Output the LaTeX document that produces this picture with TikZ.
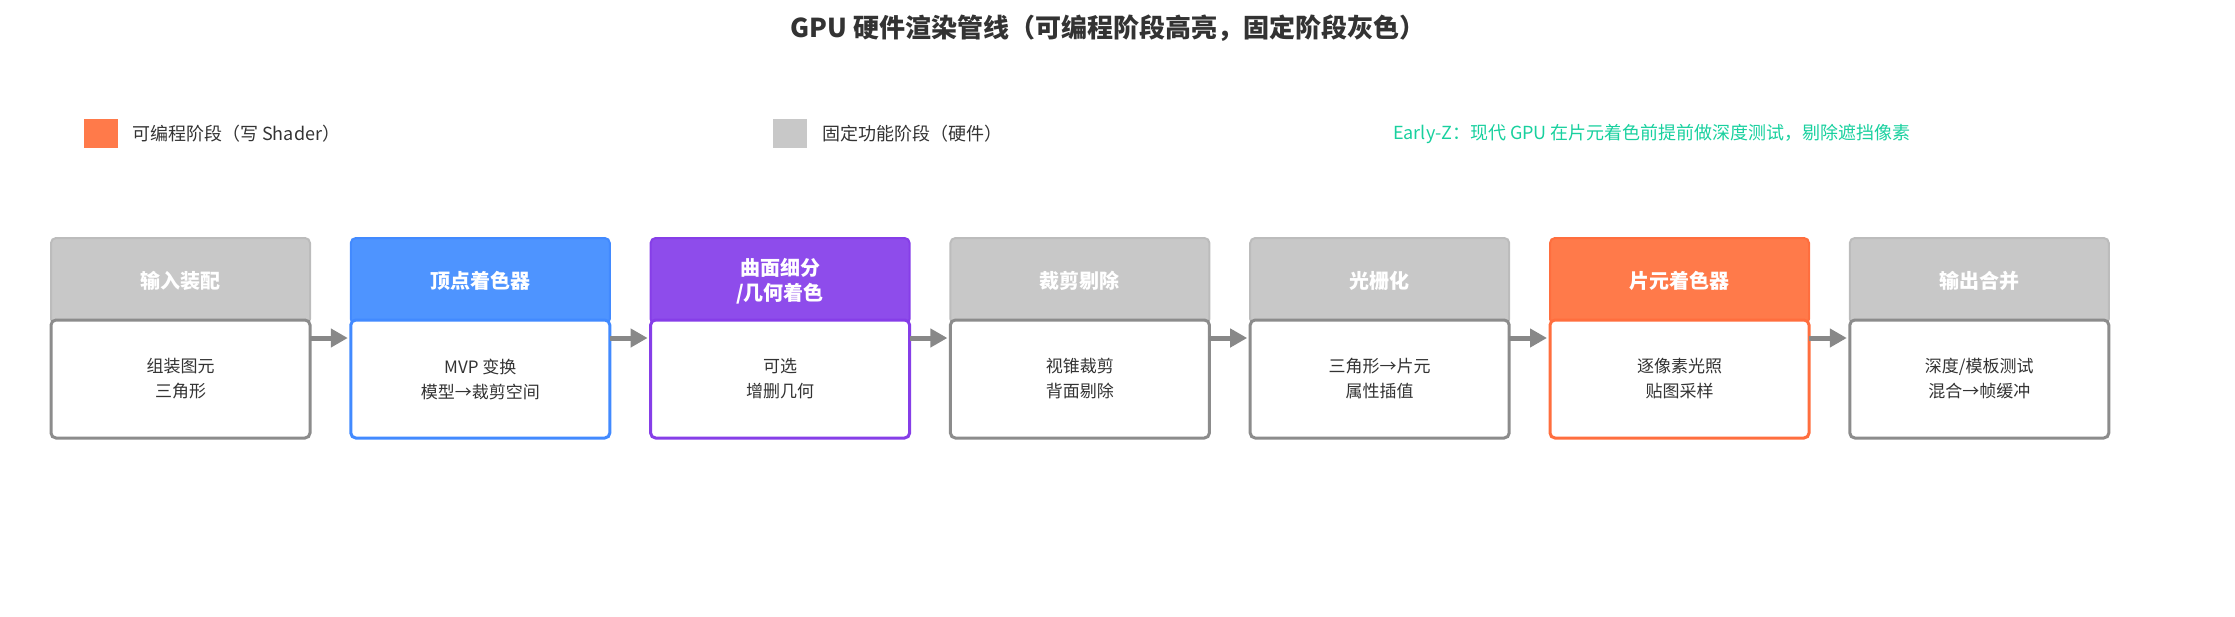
\documentclass[tikz,border=0pt]{standalone}
\usepackage{fontspec}
\setmainfont{Noto Sans CJK SC}
\usetikzlibrary{arrows.meta}
\definecolor{txt}{RGB}{51,51,51}
\definecolor{gfill}{RGB}{200,200,200}
\definecolor{gline}{RGB}{188,188,188}
\definecolor{gbody}{RGB}{140,140,140}
\definecolor{bfill}{RGB}{78,148,255}
\definecolor{bline}{RGB}{66,138,255}
\definecolor{pfill}{RGB}{142,76,235}
\definecolor{pline}{RGB}{134,62,232}
\definecolor{ofill}{RGB}{255,122,74}
\definecolor{oline}{RGB}{255,110,62}
\definecolor{arrc}{RGB}{136,136,136}
\definecolor{teal}{RGB}{24,208,158}
\tikzset{
  hdr/.style={line width=2pt, rounded corners=5pt, minimum width=259pt, minimum height=86pt,
    anchor=north west, font=\fontsize{20}{25}\selectfont\bfseries, text=white, align=center, inner sep=0pt, outer sep=0pt},
  bodybox/.style={fill=white, line width=3pt, rounded corners=5pt, minimum width=259pt, minimum height=118pt,
    anchor=north west, font=\fontsize{17}{25}\selectfont, text=txt, align=center, inner sep=0pt, outer sep=0pt},
  arr/.style={draw=arrc, line width=5pt, -{Triangle[length=17pt,width=18pt]}},
  legsq/.style={minimum width=34pt, minimum height=29pt, inner sep=0pt, anchor=north west},
  legtxt/.style={anchor=west, inner sep=0pt, font=\fontsize{18}{22}\selectfont, text=txt},
}
\begin{document}
\begin{tikzpicture}[x=1pt,y=-1pt]
\useasboundingbox (0,0) rectangle (2235,616);
\node[font=\fontsize{26}{30}\selectfont\bfseries, text=txt, inner sep=0pt] (title) at (1108,28) {GPU 硬件渲染管线（可编程阶段高亮，固定阶段灰色）};
\node[legsq, fill=ofill] (lg1) at (84,119) {};
\node[legtxt] (lt1) at (132,133.5) {可编程阶段（写 Shader）};
\node[legsq, fill=gfill] (lg2) at (773,119) {};
\node[legtxt] (lt2) at (822,133.5) {固定功能阶段（硬件）};
\node[legtxt, text=teal] (lt3) at (1393,133.5) {Early-Z：现代 GPU 在片元着色前提前做深度测试，剔除遮挡像素};
\foreach \i/\hfc/\hdc/\bdc/\htx/\btx in {
  0/gfill/gline/gbody/{输入装配}/{组装图元\\三角形},
  1/bfill/bline/bline/{顶点着色器}/{MVP 变换\\模型→裁剪空间},
  2/pfill/pline/pline/{曲面细分\\/几何着色}/{可选\\增删几何},
  3/gfill/gline/gbody/{裁剪剔除}/{视锥裁剪\\背面剔除},
  4/gfill/gline/gbody/{光栅化}/{三角形→片元\\属性插值},
  5/ofill/oline/oline/{片元着色器}/{逐像素光照\\贴图采样},
  6/gfill/gline/gbody/{输出合并}/{深度/模板测试\\混合→帧缓冲}} {
  \node[hdr, fill=\hfc, draw=\hdc] (h\i) at ({51+299.8*\i},238) {\htx};
  \node[bodybox, draw=\bdc] (b\i) at ({51+299.8*\i},320) {\btx};
}
\foreach \i/\j in {0/1,1/2,2/3,3/4,4/5,5/6}
  \draw[arr] ([yshift=41pt]b\i.east) -- ([yshift=41pt,xshift=-3pt]b\j.west);
\end{tikzpicture}
\end{document}
